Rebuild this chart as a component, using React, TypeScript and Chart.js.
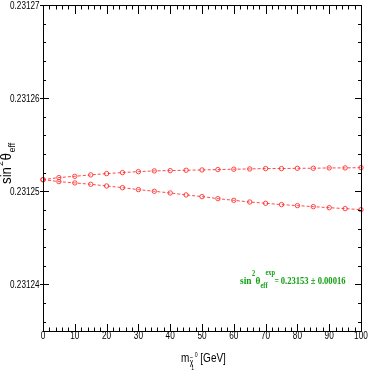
import React, { useEffect, useRef } from "react";
import { Chart, registerables } from "chart.js";

Chart.register(...registerables);

const masses = [0, 5, 10, 15, 20, 25, 30, 35, 40, 45, 50, 55, 60, 65, 70, 75, 80, 85, 90, 95, 100];
const upperSeries = [
  0.23125125, 0.23125147, 0.23125161, 0.23125176, 0.2312519, 0.23125201, 0.23125211,
  0.23125219, 0.23125222, 0.23125226, 0.23125229, 0.23125233, 0.23125237, 0.2312524,
  0.23125244, 0.23125244, 0.23125247, 0.23125247, 0.23125251, 0.23125251, 0.23125254,
];
const lowerSeries = [
  0.23125125, 0.23125104, 0.2312509, 0.23125075, 0.23125057, 0.23125039, 0.23125018,
  0.23125, 0.23124982, 0.23124961, 0.23124943, 0.23124921, 0.23124903, 0.23124885,
  0.23124871, 0.23124857, 0.23124846, 0.23124835, 0.23124824, 0.23124814, 0.23124803,
];
const xMajorTicks = [0, 10, 20, 30, 40, 50, 60, 70, 80, 90, 100];
const yMajorTickLabels = ["0.23124", "0.23125", "0.23126", "0.23127"];
const xMin = 0;
const xMax = 100;
const yMin = 0.231235;
const yMax = 0.23127;
const annotationValue = "0.23153 ± 0.00016";

const RED = "rgba(255,40,40,0.85)";
const GREEN = "#11a011";
const SANS = "'Liberation Sans', Arial, sans-serif";
const SERIF = "'Liberation Serif', 'Times New Roman', serif";

function sText(
  ctx: CanvasRenderingContext2D,
  text: string,
  x: number,
  y: number,
  font: string,
  sx: number,
  align: CanvasTextAlign = "left",
  baseline: CanvasTextBaseline = "alphabetic"
): number {
  ctx.save();
  ctx.font = font;
  ctx.textAlign = align;
  ctx.textBaseline = baseline;
  ctx.translate(x, y);
  ctx.scale(sx, 1);
  ctx.fillText(text, 0, 0);
  const w = ctx.measureText(text).width * sx;
  ctx.restore();
  return w;
}

const framePlugin = {
  id: "frame",
  afterDraw(chart: any) {
    const ctx: CanvasRenderingContext2D = chart.ctx;
    const { left, right, top, bottom } = chart.chartArea;
    const xs = chart.scales.x;
    const ys = chart.scales.y;
    ctx.save();
    ctx.strokeStyle = "#000";
    ctx.fillStyle = "#000";
    ctx.lineWidth = 1;
    // box
    ctx.strokeRect(Math.round(left) + 0.5, Math.round(top) + 0.5, Math.round(right - left), Math.round(bottom - top));

    // x ticks
    ctx.beginPath();
    for (let v = xMin; v <= xMax; v += 2) {
      const px = Math.round(xs.getPixelForValue(v)) + 0.5;
      const major = v % 10 === 0;
      const lenB = major ? 7 : 3.5;
      const lenT = major ? 9 : 4.5;
      ctx.moveTo(px, bottom);
      ctx.lineTo(px, bottom - lenB);
      ctx.moveTo(px, top);
      ctx.lineTo(px, top + lenT);
    }
    // y ticks
    for (let i = 231236; i <= 231270; i += 2) {
      const v = i / 1e6;
      const py = Math.round(ys.getPixelForValue(v)) + 0.5;
      const major = i % 10 === 0;
      if (major) {
        ctx.moveTo(left - 3, py);
        ctx.lineTo(left + 6, py);
        ctx.moveTo(right, py);
        ctx.lineTo(right - 6, py);
      } else {
        ctx.moveTo(left, py);
        ctx.lineTo(left + 3, py);
        ctx.moveTo(right, py);
        ctx.lineTo(right - 3, py);
      }
    }
    ctx.stroke();

    // tick labels
    xMajorTicks.forEach((v) => {
      sText(ctx, String(v), xs.getPixelForValue(v), 336, `11px ${SANS}`, 0.75, "center", "middle");
    });
    yMajorTickLabels.forEach((lab) => {
      sText(ctx, lab, left - 3.5, ys.getPixelForValue(parseFloat(lab)) + 0.5, `11px ${SANS}`, 0.74, "right", "middle");
    });

    // x title: m_{chi~_1^0} [GeV]
    let x = 181;
    const by = 362;
    x += sText(ctx, "m", x, by, `12.5px ${SANS}`, 0.8);
    sText(ctx, "χ", x + 0.5, by + 3, `8.5px ${SANS}`, 0.8);
    sText(ctx, "~", x + 0.5, by - 2, `7px ${SANS}`, 0.8);
    sText(ctx, "0", x + 5.5, by - 5, `6.5px ${SANS}`, 0.8);
    sText(ctx, "1", x + 2, by + 8, `6.5px ${SANS}`, 0.8);
    x += 11;
    sText(ctx, "[GeV]", x, by, `12.5px ${SANS}`, 0.8);

    // y title: sin^2 theta_eff (rotated)
    ctx.save();
    ctx.translate(11, 184);
    ctx.rotate(-Math.PI / 2);
    let t = 0;
    t += sText(ctx, "sin", t, 0, `14px ${SANS}`, 0.95);
    t += sText(ctx, "2", t + 1, -8, `9.5px ${SANS}`, 0.95) + 1.5;
    t += sText(ctx, "θ", t, 0, `14px ${SANS}`, 0.95);
    sText(ctx, "eff", t + 0.5, 4, `9.5px ${SANS}`, 0.95);
    ctx.restore();

    // annotation
    ctx.fillStyle = GREEN;
    let ax = 240;
    const ab = 284;
    ax += sText(ctx, "sin", ax, ab, `bold 11px ${SERIF}`, 0.85);
    ax += sText(ctx, "2", ax + 0.5, ab - 8, `bold 7.5px ${SERIF}`, 0.85) + 1;
    ax += sText(ctx, "θ", ax, ab, `bold 11px ${SERIF}`, 0.85);
    const effW = sText(ctx, "eff", ax, ab + 4, `bold 7.5px ${SERIF}`, 0.85);
    sText(ctx, "exp", ax + 5, ab - 9, `bold 7.5px ${SERIF}`, 0.85);
    ax += Math.max(effW + 5, 13);
    ax += sText(ctx, " = ", ax - 1, ab, `bold 11px ${SERIF}`, 0.7);
    sText(ctx, annotationValue, ax - 1, ab, `bold 11px ${SERIF}`, 0.78);

    ctx.restore();
  },
};

export default function App() {
  const ref = useRef<HTMLCanvasElement | null>(null);
  useEffect(() => {
    document.body.style.margin = "0";
    const canvas = ref.current!;
    const mk = (vals: number[]) => masses.map((m, i) => ({ x: m, y: vals[i] }));
    const ds = (label: string, vals: number[]) => ({
      label,
      data: mk(vals),
      borderColor: RED,
      backgroundColor: "rgba(255,255,255,0)",
      borderWidth: 1,
      borderDash: [3, 2],
      pointStyle: "circle",
      pointRadius: 2.2,
      pointBorderWidth: 1,
      pointBorderColor: RED,
      pointBackgroundColor: "rgba(255,255,255,0)",
      tension: 0,
      clip: false as any,
    });
    const chart = new Chart(canvas, {
      type: "line",
      data: { datasets: [ds("upper", upperSeries), ds("lower", lowerSeries)] },
      options: {
        animation: false,
        responsive: false,
        maintainAspectRatio: false,
        layout: { padding: { left: 43, right: 10, top: 5, bottom: 40 } },
        plugins: { legend: { display: false }, tooltip: { enabled: false } },
        scales: {
          x: { type: "linear", min: xMin, max: xMax, display: false },
          y: { type: "linear", min: yMin, max: yMax, display: false },
        },
      },
      plugins: [framePlugin],
    });
    return () => chart.destroy();
  }, []);
  return (
    <div style={{ position: "fixed", left: 0, top: 0, width: 371, height: 371, background: "#fff" }}>
      <canvas ref={ref} width={371} height={371} style={{ width: 371, height: 371, display: "block" }} />
    </div>
  );
}
